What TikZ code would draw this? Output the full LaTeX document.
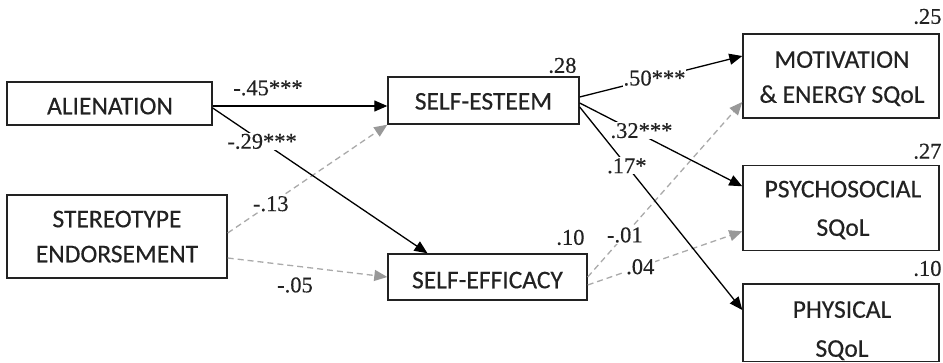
\documentclass[tikz,border=0pt]{standalone}
\usepackage{fontspec}
\setmainfont{Liberation Serif}[FakeBold=0.3]
\newfontfamily\boxfont{Carlito}[FakeBold=0.4]
\usetikzlibrary{arrows.meta}
\definecolor{ink}{HTML}{222222}
\definecolor{dgray}{HTML}{AAAAAA}
\definecolor{tgray}{HTML}{999999}
\tikzset{
  varbox/.style={draw=ink, line width=1.4pt, inner sep=0pt},
  vartext/.style={inner sep=0pt, align=center, text=ink, text depth=0pt,
    font=\boxfont\fontsize{25.5}{#1}\selectfont},
  vartext/.default=35,
  sig/.style={draw=black, line width=1.3pt, -{Triangle[length=13pt,width=11pt]}},
  nsig/.style={draw=dgray, line width=1.3pt, dash pattern=on 6pt off 4pt,
    -{Triangle[length=13pt,width=11pt,color=tgray,fill=tgray]}},
  coef/.style={font=\fontsize{22.5}{24}\selectfont, text=ink, inner sep=1pt},
  oncoef/.style={coef, fill=white},
  rsq/.style={font=\fontsize{22.5}{24}\selectfont, text=ink, inner sep=0pt, anchor=south east}
}
\begin{document}
\begin{tikzpicture}[x=1pt,y=-1pt]
\useasboundingbox[fill=white] (0,0) rectangle (943,363);
% boxes
\node[varbox, minimum width=205pt, minimum height=43pt] (ALIEN) at (109.5,103.5) {};
\node[varbox, minimum width=220pt, minimum height=83pt] (STEREO) at (117,236.5) {};
\node[varbox, minimum width=191pt, minimum height=47pt] (SE) at (483.5,100.5) {};
\node[varbox, minimum width=199pt, minimum height=46pt] (SEF) at (487.5,277) {};
\node[varbox, minimum width=196pt, minimum height=84pt] (MOT) at (841,76) {};
\node[varbox, minimum width=196pt, minimum height=85pt] (PSY) at (841,208.3) {};
\node[varbox, minimum width=196pt, minimum height=77.5pt] (PHY) at (841,322.8) {};
% box texts
\node[vartext] (ALIENt) at (110,106) {ALIENATION};
\node[vartext] (STEREOt) at (117,236.5) {STEREOTYPE\\ENDORSEMENT};
\node[vartext] (SEt) at (483.5,101.3) {SELF-ESTEEM};
\node[vartext] (SEFt) at (487.5,280) {SELF-EFFICACY};
\node[vartext] (MOTt) at (842,77) {MOTIVATION\\\& ENERGY SQoL};
\node[vartext=38.5] (PSYt) at (843,208.3) {PSYCHOSOCIAL\\SQoL};
\node[vartext=39] (PHYt) at (842,329) {PHYSICAL\\SQoL};

% R squared
\node[rsq] (r1) at ([xshift=-3pt,yshift=3pt]SE.north east) {.28};
\node[rsq] (r2) at ([xshift=-3pt,yshift=8pt]SEF.north east) {.10};
\node[rsq] (r3) at ([xshift=2pt,yshift=9pt]MOT.north east) {.25};
\node[rsq] (r4) at ([xshift=2pt,yshift=6pt]PSY.north east) {.27};
\node[rsq] (r5) at ([xshift=2pt,yshift=7pt]PHY.north east) {.10};

% dashed (non-significant) paths
\draw[nsig] ([yshift=3.5pt]STEREO.east) -- (SE.south west) node[oncoef, pos=0.27] (c13) {-.13};
\draw[nsig] ([yshift=-21.5pt]STEREO.east) -- (SEF.west);
\draw[nsig] (SEF.east) -- ([yshift=-26pt]MOT.west) node[oncoef, pos=0.24] (c01) {-.01};
\draw[nsig] ([yshift=-8pt]SEF.east) -- ([yshift=-23pt]PSY.west) node[oncoef, pos=0.34] (c04) {.04};

% significant paths
\draw[sig] ([yshift=-2.5pt]ALIEN.east) -- ([yshift=-5.5pt]SE.west);
\draw[sig] ([yshift=-4.5pt]ALIEN.east) -- ([xshift=-60pt]SEF.north) node[oncoef, pos=0.23] (c29) {-.29***};
\draw[sig] ([yshift=3.5pt]SE.east) -- ([yshift=20pt]MOT.west) node[oncoef, pos=0.46] (c50) {.50***};
\draw[sig] ([yshift=-2.5pt]SE.east) -- ([yshift=22pt]PSY.west) node[oncoef, pos=0.38, yshift=4pt] (c32) {.32***};
\draw[sig] ([yshift=-6.5pt]SE.east) -- ([yshift=12.8pt]PHY.west) node[oncoef, pos=0.29] (c17) {.17*};

\node[coef] (c45) at (268,88) {-.45***};
\node[coef] (c05) at (295,285) {-.05};
\end{tikzpicture}
\end{document}
